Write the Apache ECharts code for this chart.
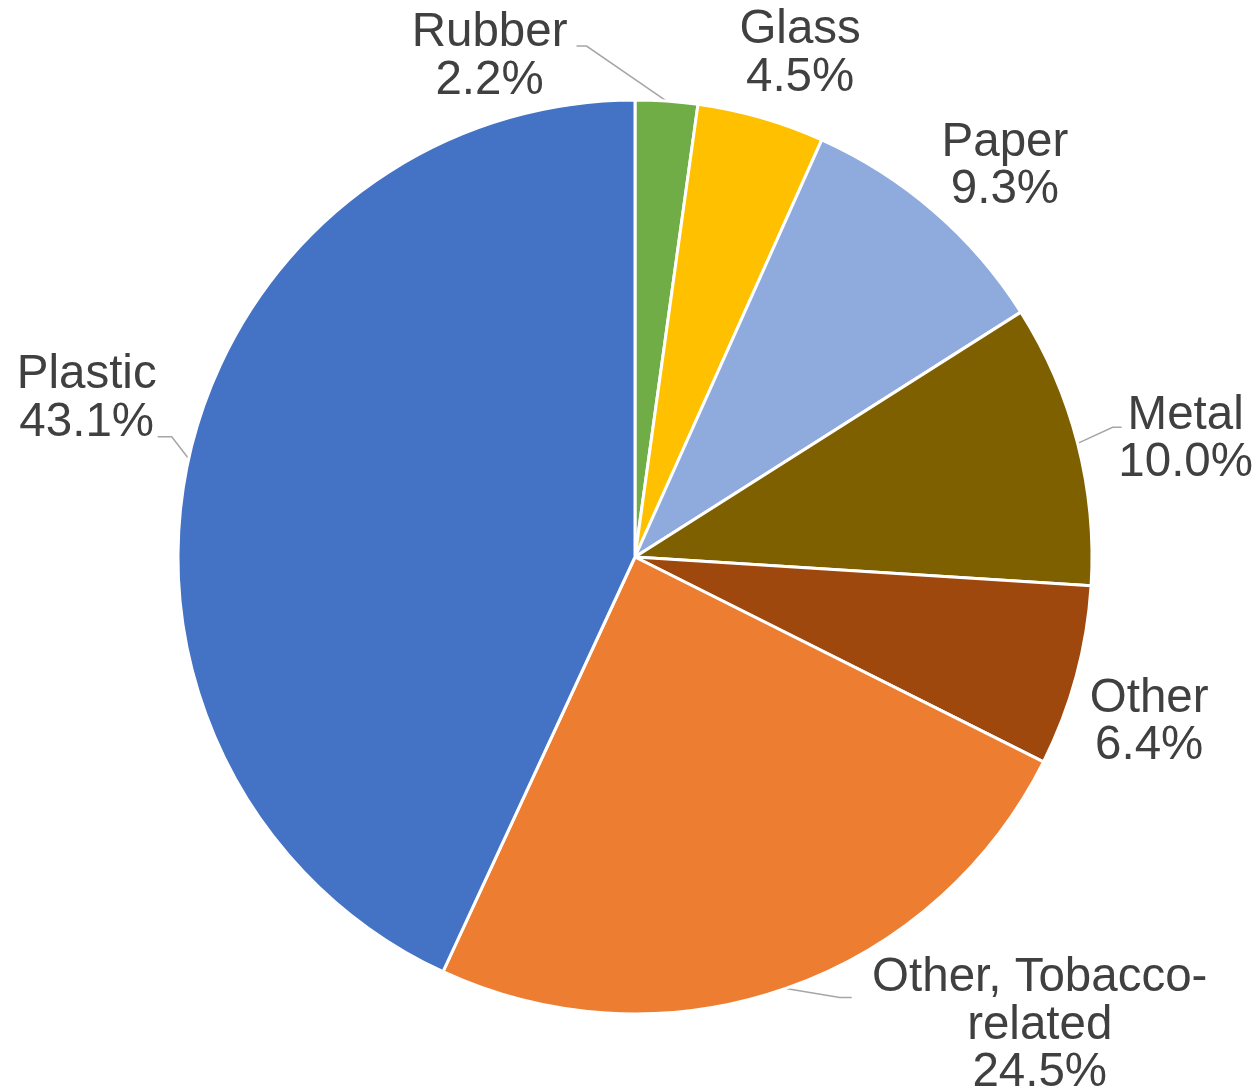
<!DOCTYPE html>
<html>
<head>
<meta charset="utf-8">
<title>Litter composition</title>
<script src="https://cdn.jsdelivr.net/npm/echarts@6/dist/echarts.min.js"></script>
<style>
  html, body { margin: 0; padding: 0; background: #ffffff; }
  #chart { width: 1260px; height: 1091px; }
</style>
</head>
<body>
<div id="chart"></div>
<script>
// Share of collected litter by material (percent), clockwise from 12 o'clock
const categories = ['Rubber', 'Glass', 'Paper', 'Metal', 'Other', 'Other, Tobacco-related', 'Plastic'];
const shares = [2.2, 4.5, 9.3, 10.0, 6.4, 24.5, 43.1];
const sliceColors = ['#70AD47', '#FFC000', '#8FAADC', '#7F6000', '#9E480E', '#ED7D31', '#4472C4'];

// Label placement relative to each slice's outer anchor point:
// c = label centre offset, line = leader elbow and end offsets (null = no leader)
const labelPlacement = [
  { c: [-177, -44], line: [[-80, -55], [-90, -55]] },
  { c: [39, -64], line: null },
  { c: [71, -45], line: null },
  { c: [108, -4], line: [[35, -16], [44, -16]] },
  { c: [73, 46], line: null },
  { c: [254, 37], line: [[54, 9], [66, 9]] },
  { c: [-102, -60], line: [[-17, -22], [-31, -22]] }
];

const chart = echarts.init(document.getElementById('chart'), null, { renderer: 'canvas' });

const pieData = categories.map((name, i) => ({
  name: name,
  value: shares[i],
  itemStyle: { color: sliceColors[i] },
  labelLine: labelPlacement[i].line ? {} : { lineStyle: { opacity: 0 } }
}));

chart.setOption({
  backgroundColor: '#ffffff',
  animation: false,
  series: [{
    type: 'pie',
    center: [635, 557],
    radius: 457,
    startAngle: 90,
    clockwise: true,
    avoidLabelOverlap: false,
    data: pieData,
    itemStyle: { borderColor: '#ffffff', borderWidth: 3 },
    label: {
      show: true,
      position: 'outside',
      formatter: function (p) {
        const lines = p.name.replace('Tobacco-', 'Tobacco-\n').split('\n');
        lines.push(p.value.toFixed(1) + '%');
        return lines.map(s => '{t|' + s + '}').join('\n');
      },
      rich: {
        t: {
          fontFamily: '"Liberation Sans", Arial, sans-serif',
          fontSize: 47.5,
          lineHeight: 47.5,
          color: '#404040',
          align: 'center'
        }
      }
    },
    labelLine: {
      show: true,
      length: 20,
      length2: 10,
      lineStyle: { color: '#A6A6A6', width: 1.5 }
    },
    labelLayout: function (params) {
      const spec = labelPlacement[params.dataIndex];
      const pts = params.labelLinePoints;
      if (!pts) return {};
      const a = pts[0];
      const out = {
        x: a[0] + spec.c[0],
        y: a[1] + spec.c[1],
        align: 'center',
        verticalAlign: 'middle'
      };
      if (spec.line) {
        out.labelLinePoints = [
          [a[0], a[1]],
          [a[0] + spec.line[0][0], a[1] + spec.line[0][1]],
          [a[0] + spec.line[1][0], a[1] + spec.line[1][1]]
        ];
      } else {
        out.labelLinePoints = [[a[0], a[1]], [a[0], a[1]], [a[0], a[1]]];
      }
      return out;
    }
  }]
});
</script>
</body>
</html>
